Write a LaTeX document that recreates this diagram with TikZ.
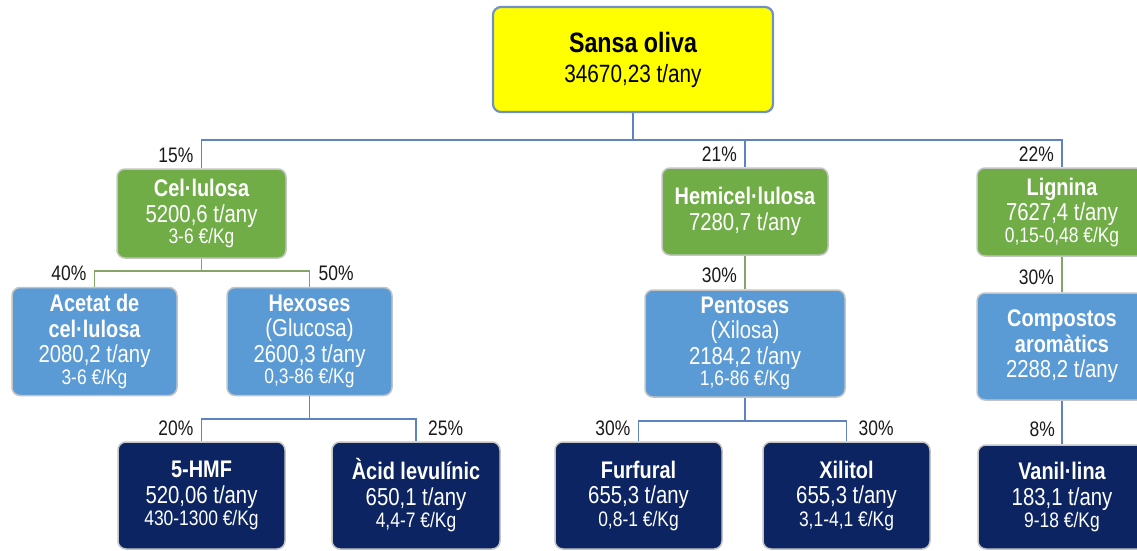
\documentclass[tikz,border=0pt]{standalone}
\usepackage{fontspec}
\setmainfont{Liberation Sans}[FakeStretch=0.83]
\definecolor{rootfill}{HTML}{FFFF00}
\definecolor{rootborder}{HTML}{7090C8}
\definecolor{greenfill}{HTML}{70AD47}
\definecolor{bluefill}{HTML}{5B9BD5}
\definecolor{navyfill}{HTML}{0C2461}
\definecolor{boxborder}{HTML}{C4C4C4}
\definecolor{blueline}{HTML}{5F82C0}
\definecolor{greenline}{HTML}{84A468}
\definecolor{labeltext}{HTML}{1A1A1A}
\tikzset{
  basebox/.style={rounded corners=8pt, draw=boxborder, line width=1.5pt, inner sep=0pt,
    align=center, text=white, font=\fontsize{24.5}{25.5}\selectfont},
  rootbox/.style={basebox, draw=rootborder, line width=2.2pt, fill=rootfill, text=black,
    font=\fontsize{25}{30}\selectfont},
  greenbox/.style={basebox, fill=greenfill},
  bluebox/.style={basebox, fill=bluefill},
  navybox/.style={basebox, fill=navyfill},
  bconn/.style={draw=blueline, line width=1.6pt},
  gconn/.style={draw=greenline, line width=1.6pt},
  pctl/.style={anchor=base east, text=labeltext, font=\fontsize{21}{22}\selectfont, inner sep=0pt},
  pctr/.style={anchor=base west, text=labeltext, font=\fontsize{21}{22}\selectfont, inner sep=0pt},
}
\newcommand{\ttl}[1]{{\bfseries\fontsize{24}{25.5}\selectfont #1}}
\newcommand{\prc}[1]{{\fontsize{21}{22}\selectfont #1}}
\begin{document}
\begin{tikzpicture}[x=1pt,y=-1pt]
\useasboundingbox (0,0) rectangle (1137,550);
\clip (0,0) rectangle (1137,550);
\fill[white] (0,0) rectangle (1137,550);

% nodes
\node[rootbox, minimum width=280pt, minimum height=105pt] (root) at (633,59.5)
  {{\bfseries\fontsize{28}{30}\selectfont Sansa oliva}\\34670,23 t/any};

\node[greenbox, minimum width=169pt, minimum height=89pt] (cel) at (201.5,213.5)
  {\ttl{Cel·lulosa}\\5200,6 t/any\\[-4pt]\prc{3-6 €/Kg}};
\node[greenbox, minimum width=166pt, minimum height=87pt] (hemi) at (745,211.5)
  {\ttl{Hemicel·lulosa}\\7280,7 t/any};
\node[greenbox, minimum width=170pt, minimum height=88pt] (lig) at (1062,212)
  {\ttl{Lignina}\\7627,4 t/any\\[-4pt]\prc{0,15-0,48 €/Kg}};

\node[bluebox, minimum width=165pt, minimum height=108pt] (acet) at (94.5,341.5)
  {\ttl{Acetat de}\\\ttl{cel·lulosa}\\2080,2 t/any\\[-4pt]\prc{3-6 €/Kg}};
\node[bluebox, minimum width=165pt, minimum height=108pt] (hex) at (309.5,341.5)
  {\ttl{Hexoses}\\(Glucosa)\\2600,3 t/any\\[-4pt]\prc{0,3-86 €/Kg}};
\node[bluebox, minimum width=200pt, minimum height=107pt] (pent) at (745,343.5)
  {\ttl{Pentoses}\\(Xilosa)\\2184,2 t/any\\[-4pt]\prc{1,6-86 €/Kg}};
\node[bluebox, minimum width=170pt, minimum height=107pt] (comp) at (1062,346.5)
  {\ttl{Compostos}\\\ttl{aromàtics}\\2288,2 t/any};

\node[navybox, minimum width=167pt, minimum height=107pt] (hmf) at (201.5,495.5)
  {\ttl{5-HMF}\\520,06 t/any\\[-3pt]\prc{430-1300 €/Kg}};
\node[navybox, minimum width=168pt, minimum height=107pt] (acid) at (416,495.5)
  {\ttl{Àcid levulínic}\\650,1 t/any\\[-3pt]\prc{4,4-7 €/Kg}};
\node[navybox, minimum width=167pt, minimum height=107pt] (furf) at (638.5,495.5)
  {\ttl{Furfural}\\655,3 t/any\\[-3pt]\prc{0,8-1 €/Kg}};
\node[navybox, minimum width=167pt, minimum height=107pt] (xil) at (846.5,495.5)
  {\ttl{Xilitol}\\655,3 t/any\\[-3pt]\prc{3,1-4,1 €/Kg}};
\node[navybox, minimum width=168pt, minimum height=104pt] (van) at (1062,497)
  {\ttl{Vanil·lina}\\183,1 t/any\\[-3pt]\prc{9-18 €/Kg}};

% junctions
\coordinate (j0) at (633,140);
\coordinate (j1) at (201.5,271);
\coordinate (j2) at (309.5,419);
\coordinate (j3) at (745,421);

% connectors
\draw[bconn] (root.south) -- (j0);
\draw[bconn] (cel.north) |- (j0) -| (lig.north);
\draw[bconn] (j0 -| hemi.north) -- (hemi.north);

\draw[gconn] (cel.south) -- (j1);
\draw[gconn] (acet.north) |- (j1) -| (hex.north);
\draw[gconn] (hemi.south) -- (pent.north);
\draw[gconn] (lig.south) -- (comp.north);

\draw[bconn] (hex.south) -- (j2);
\draw[bconn] (hmf.north) |- (j2) -| (acid.north);
\draw[bconn] (pent.south) -- (j3);
\draw[bconn] (furf.north) |- (j3) -| (xil.north);
\draw[bconn] (comp.south) -- (van.north);

% percentage labels
\node[pctl] (p15) at ([xshift=-8pt,yshift=6pt]cel.north) {15\%};
\node[pctl] (p21) at ([xshift=-8pt,yshift=6pt]hemi.north) {21\%};
\node[pctl] (p22) at ([xshift=-8pt,yshift=6pt]lig.north) {22\%};
\node[pctl] (p40) at ([xshift=-8pt,yshift=6pt]acet.north) {40\%};
\node[pctr] (p50) at ([xshift=9pt,yshift=6pt]hex.north) {50\%};
\node[pctl] (p30a) at ([xshift=-8pt,yshift=7pt]pent.north) {30\%};
\node[pctl] (p30b) at ([xshift=-8pt,yshift=8pt]comp.north) {30\%};
\node[pctl] (p20) at ([xshift=-8pt,yshift=6pt]hmf.north) {20\%};
\node[pctr] (p25) at ([xshift=12pt,yshift=6pt]acid.north) {25\%};
\node[pctl] (p30c) at ([xshift=-8pt,yshift=6pt]furf.north) {30\%};
\node[pctr] (p30d) at ([xshift=12pt,yshift=6pt]xil.north) {30\%};
\node[pctl] (p8) at ([xshift=-7pt,yshift=8pt]van.north) {8\%};
\end{tikzpicture}
\end{document}
